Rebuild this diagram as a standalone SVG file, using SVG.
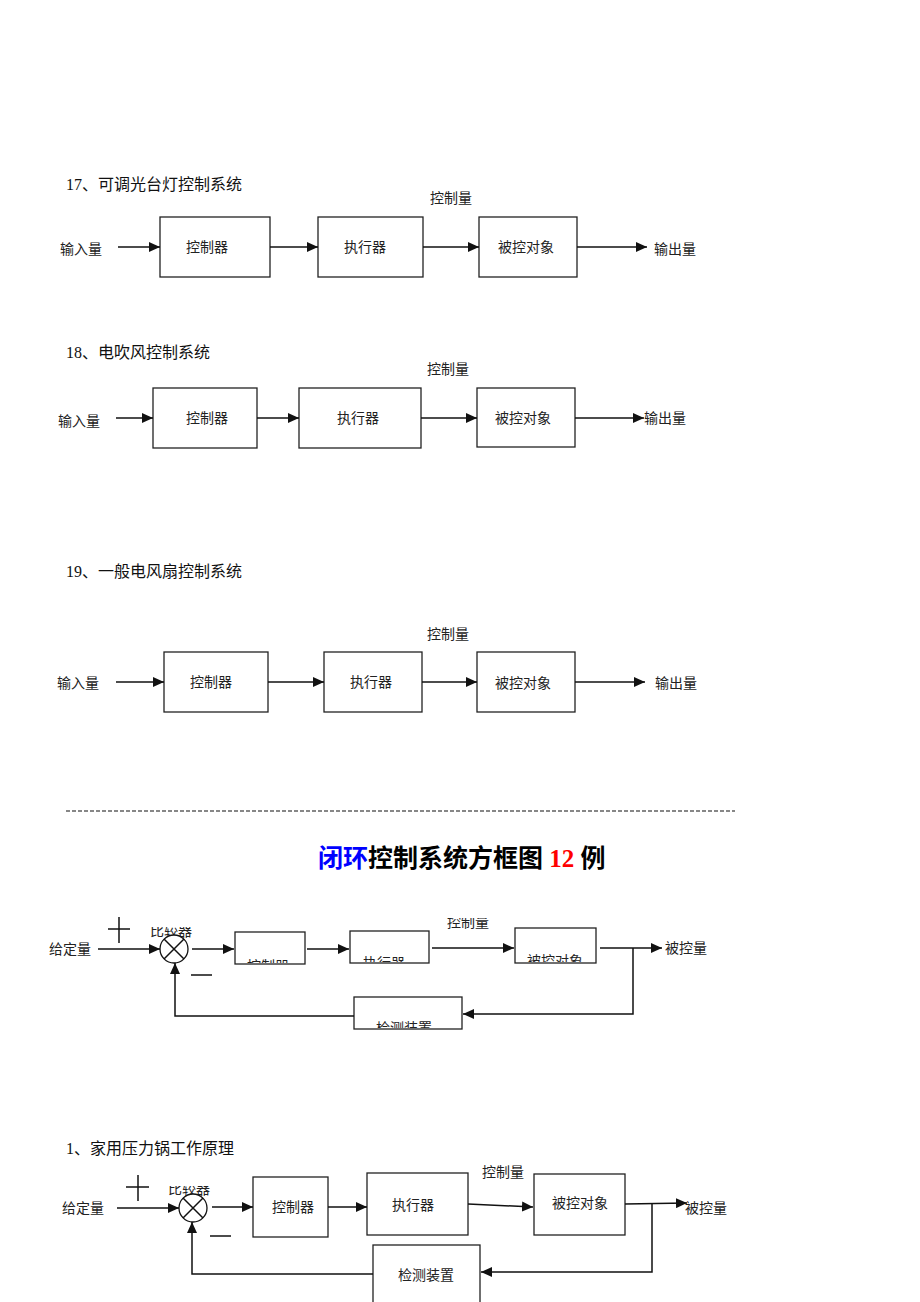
<svg xmlns="http://www.w3.org/2000/svg" width="920" height="1302" viewBox="0 0 920 1302">
<style>
.t{font-family:"Liberation Serif","Noto Sans CJK SC",serif;font-size:14px;fill:#222}
.h{font-family:"Liberation Serif","Noto Sans CJK SC",serif;font-size:16px;fill:#111}
.m{text-anchor:middle}
.box{fill:#fff;stroke:#222;stroke-width:1.3}
.ln{fill:none;stroke:#111;stroke-width:1.5}
.ar{fill:none;stroke:#111;stroke-width:1.5;marker-end:url(#ah)}
</style>
<defs>
<marker id="ah" markerUnits="userSpaceOnUse" markerWidth="12" markerHeight="10" refX="11" refY="5" orient="auto">
<path d="M0,0 L11,5 L0,10 Z" fill="#111"/>
</marker>
<clipPath id="c1"><rect x="236" y="933" width="68" height="30"/></clipPath>
<clipPath id="c2"><rect x="351" y="932" width="77" height="30"/></clipPath>
<clipPath id="c3"><rect x="516" y="929" width="79" height="33"/></clipPath>
<clipPath id="c4"><rect x="355" y="998" width="106" height="30"/></clipPath>
<clipPath id="c5"><rect x="140" y="927" width="70" height="20"/></clipPath>
<clipPath id="c6"><rect x="440" y="918" width="60" height="20"/></clipPath>
<clipPath id="c7"><rect x="160" y="1186" width="60" height="20"/></clipPath>
</defs>
<rect width="920" height="1302" fill="#fff"/>

<!-- Diagram 17 -->
<g id="d17">
<text class="h" x="66" y="190">17、可调光台灯控制系统</text>
<text class="t" x="60" y="254">输入量</text>
<text class="t" x="430" y="203">控制量</text>
<text class="t" x="654" y="254">输出量</text>
</g>
<g id="d17-ctrl"><rect class="box" x="160" y="217" width="110" height="60"/><text class="t m" x="207" y="252">控制器</text></g>
<g id="d17-act"><rect class="box" x="318" y="217" width="105" height="60"/><text class="t m" x="365" y="252">执行器</text></g>
<g id="d17-obj"><rect class="box" x="479" y="217" width="98" height="60"/><text class="t m" x="526" y="252">被控对象</text></g>

<!-- Diagram 18 -->
<g id="d18">
<text class="h" x="66" y="358">18、电吹风控制系统</text>
<text class="t" x="58" y="426">输入量</text>
<text class="t" x="427" y="374">控制量</text>
<text class="t" x="644" y="423">输出量</text>
</g>
<g id="d18-ctrl"><rect class="box" x="153" y="388" width="104" height="60"/><text class="t m" x="207" y="423">控制器</text></g>
<g id="d18-act"><rect class="box" x="299" y="388" width="122" height="60"/><text class="t m" x="358" y="423">执行器</text></g>
<g id="d18-obj"><rect class="box" x="477" y="388" width="98" height="59"/><text class="t m" x="523" y="423">被控对象</text></g>

<!-- Diagram 19 -->
<g id="d19">
<text class="h" x="66" y="577">19、一般电风扇控制系统</text>
<text class="t" x="57" y="688">输入量</text>
<text class="t" x="427" y="639">控制量</text>
<text class="t" x="655" y="688">输出量</text>
</g>
<g id="d19-ctrl"><rect class="box" x="164" y="652" width="104" height="60"/><text class="t m" x="211" y="687">控制器</text></g>
<g id="d19-act"><rect class="box" x="324" y="652" width="98" height="60"/><text class="t m" x="371" y="687">执行器</text></g>
<g id="d19-obj"><rect class="box" x="477" y="652" width="98" height="60"/><text class="t m" x="523" y="688">被控对象</text></g>

<!-- separator and heading -->
<line x1="66" y1="811" x2="735" y2="811" stroke="#111" stroke-width="1.2" stroke-dasharray="4 2"/>
<text x="318" y="867" style="font-family:'Liberation Serif','Noto Sans CJK SC',serif;font-size:25px;font-weight:bold"><tspan fill="#0000ff">闭环</tspan><tspan fill="#000">控制系统方框图 </tspan><tspan fill="#ff0000">12</tspan><tspan fill="#000"> 例</tspan></text>

<!-- Closed-loop generic -->
<g id="cl">
<text class="t" x="49" y="954">给定量</text>
<text class="t" x="665" y="953">被控量</text>
<text class="t" x="150" y="936" clip-path="url(#c5)">比较器</text>
<text class="t" x="447" y="927" clip-path="url(#c6)">控制量</text>
<line class="ln" x1="108" y1="929" x2="130" y2="929"/>
<line class="ln" x1="119" y1="917" x2="119" y2="943"/>
<line class="ln" x1="191" y1="975" x2="212" y2="975"/>
</g>
<g id="cl-sum"><circle cx="174" cy="949" r="14" fill="#fff" stroke="#111" stroke-width="1.3"/><path class="ln" d="M164,939 L184,959 M184,939 L164,959"/></g>
<g id="cl-ctrl"><rect class="box" x="235" y="932" width="70" height="32"/><text class="t m" x="268" y="971" clip-path="url(#c1)">控制器</text></g>
<g id="cl-act"><rect class="box" x="350" y="931" width="79" height="32"/><text class="t m" x="384" y="968" clip-path="url(#c2)">执行器</text></g>
<g id="cl-obj"><rect class="box" x="515" y="928" width="81" height="35"/><text class="t m" x="555" y="966" clip-path="url(#c3)">被控对象</text></g>
<g id="cl-det"><rect class="box" x="354" y="997" width="108" height="32"/><text class="t m" x="404" y="1033" clip-path="url(#c4)">检测装置</text></g>

<!-- Pressure cooker -->
<g id="pc">
<text class="h" x="66" y="1154">1、家用压力锅工作原理</text>
<text class="t" x="62" y="1213">给定量</text>
<text class="t" x="685" y="1213">被控量</text>
<text class="t" x="168" y="1194" clip-path="url(#c7)">比较器</text>
<text class="t" x="482" y="1177">控制量</text>
<line class="ln" x1="126" y1="1187" x2="149" y2="1187"/>
<line class="ln" x1="138" y1="1175" x2="138" y2="1201"/>
<line class="ln" x1="210" y1="1236" x2="231" y2="1236"/>
</g>
<g id="pc-sum"><circle cx="193" cy="1208" r="14" fill="#fff" stroke="#111" stroke-width="1.3"/><path class="ln" d="M183,1198 L203,1218 M203,1198 L183,1218"/></g>
<g id="pc-ctrl"><rect class="box" x="253" y="1177" width="75" height="60"/><text class="t m" x="293" y="1212">控制器</text></g>
<g id="pc-act"><rect class="box" x="367" y="1173" width="101" height="62"/><text class="t m" x="413" y="1210">执行器</text></g>
<g id="pc-obj"><rect class="box" x="534" y="1174" width="91" height="61"/><text class="t m" x="580" y="1208">被控对象</text></g>
<g id="pc-det"><rect class="box" x="373" y="1245" width="107" height="70"/><text class="t m" x="426" y="1280">检测装置</text></g>

<!-- connectors -->
<g id="connectors">
<line class="ar" x1="118" y1="247" x2="160" y2="247"/>
<line class="ar" x1="270" y1="247" x2="318" y2="247"/>
<line class="ar" x1="423" y1="247" x2="479" y2="247"/>
<line class="ar" x1="577" y1="247" x2="647" y2="247"/>

<line class="ar" x1="116" y1="418" x2="153" y2="418"/>
<line class="ar" x1="257" y1="418" x2="299" y2="418"/>
<line class="ar" x1="421" y1="418" x2="477" y2="418"/>
<line class="ar" x1="575" y1="418" x2="644" y2="418"/>

<line class="ar" x1="116" y1="682" x2="164" y2="682"/>
<line class="ar" x1="268" y1="682" x2="324" y2="682"/>
<line class="ar" x1="422" y1="682" x2="477" y2="682"/>
<line class="ar" x1="575" y1="682" x2="645" y2="682"/>

<line class="ar" x1="98" y1="949" x2="160" y2="949"/>
<line class="ar" x1="192" y1="949" x2="234" y2="949"/>
<line class="ar" x1="307" y1="949" x2="349" y2="949"/>
<line class="ar" x1="432" y1="948" x2="514" y2="948"/>
<line class="ar" x1="600" y1="948" x2="662" y2="948"/>
<polyline class="ar" points="633,948 633,1014 463,1014"/>
<polyline class="ar" points="354,1016 175,1016 175,963"/>

<line class="ar" x1="117" y1="1208" x2="179" y2="1208"/>
<line class="ar" x1="212" y1="1207" x2="253" y2="1207"/>
<line class="ar" x1="328" y1="1207" x2="367" y2="1207"/>
<line class="ar" x1="468" y1="1204" x2="533" y2="1207"/>
<line class="ar" x1="625" y1="1204" x2="687" y2="1203"/>
<polyline class="ar" points="652,1204 652,1272 481,1272"/>
<polyline class="ar" points="373,1274 192,1274 192,1222"/>
</g>
</svg>
